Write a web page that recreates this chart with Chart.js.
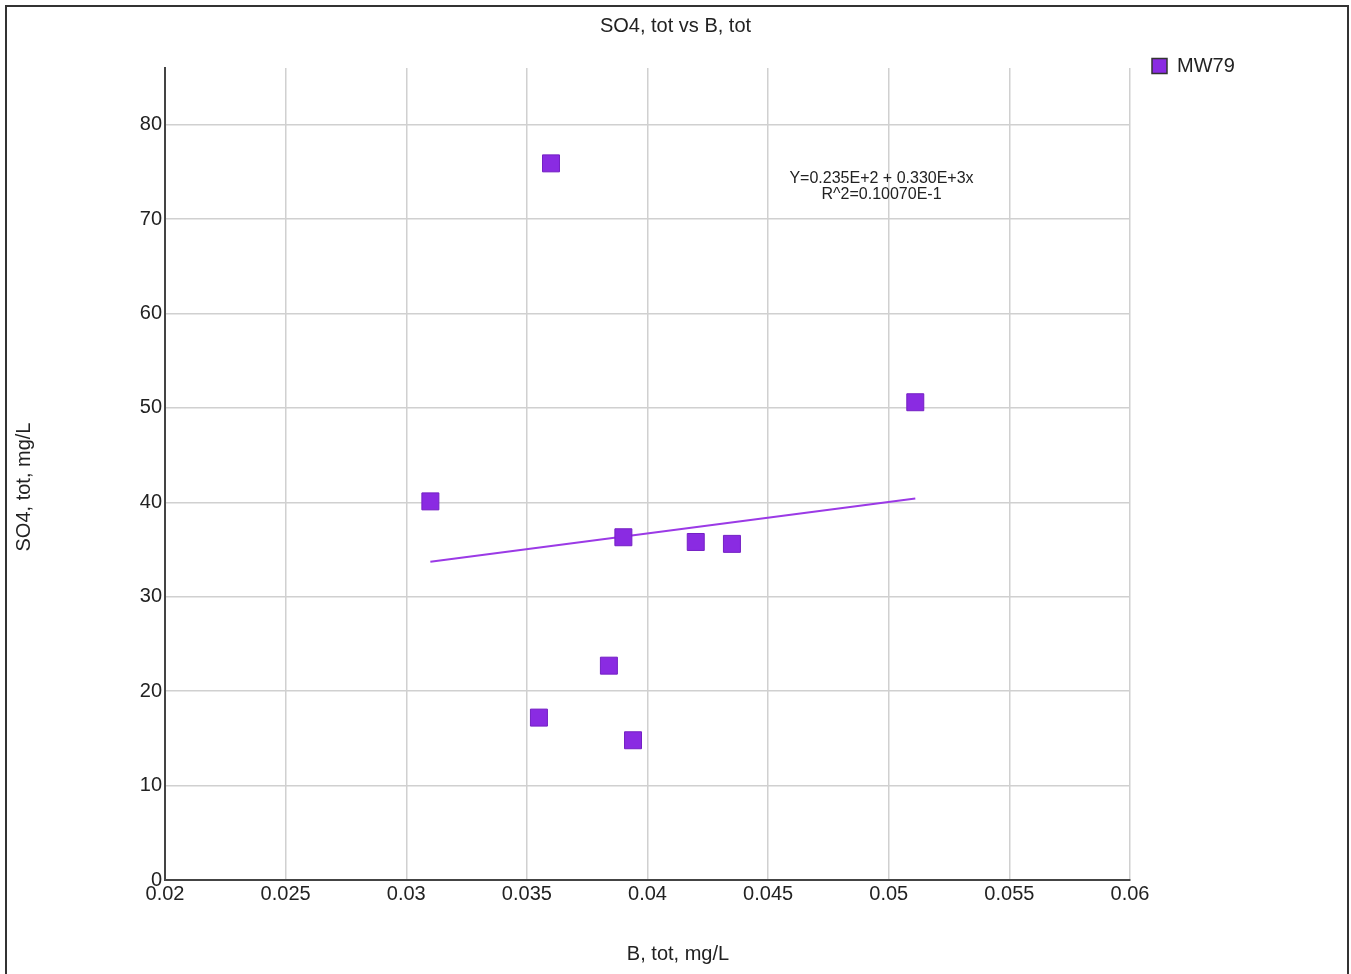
<!DOCTYPE html>
<html>
<head>
<meta charset="utf-8">
<title>SO4, tot vs B, tot</title>
<script src="https://cdn.jsdelivr.net/npm/chart.js@4/dist/chart.umd.min.js"></script>
<style>
    body { margin: 0; background: #fff; }
    canvas { display: block; }
</style>
</head>
<body>
<canvas id="grafico" width="1351" height="974"></canvas>
<script>

// datos
let b_tot = [0.031, 0.036, 0.039, 0.042, 0.0435, 0.0511, 0.0384, 0.0355, 0.0394];
let so4_tot = [40.1, 75.9, 36.3, 35.8, 35.6, 50.6, 22.7, 17.2, 14.8];

let trend_x = [0.031, 0.0511];
let trend_y = [33.7, 40.4];

let x_ticks = [0.02, 0.025, 0.03, 0.035, 0.04, 0.045, 0.05, 0.055, 0.06];
let y_ticks = [0, 10, 20, 30, 40, 50, 60, 70, 80];

let ecuacion = ['Y=0.235E+2 + 0.330E+3x', 'R^2=0.10070E-1'];

let morado = '#8a2be2';
let fuente = 'Liberation Sans, Arial, sans-serif';

let puntos = [];
for (i = 0; i < b_tot.length; i++) {
    puntos.push({x: b_tot[i], y: so4_tot[i]});
}
let linea = [];
for (i = 0; i < trend_x.length; i++) {
    linea.push({x: trend_x[i], y: trend_y[i]});
}

// marco, titulos de ejes y ecuacion
let extras = {
    id: 'extras',
    afterDraw(chart) {
        let ctx = chart.ctx;
        let xs = chart.scales.x;
        let ys = chart.scales.y;
        ctx.save();
        ctx.strokeStyle = '#333';
        ctx.lineWidth = 2;
        ctx.strokeRect(6, 6, 1342, 990);

        ctx.fillStyle = '#222';
        ctx.font = '20px ' + fuente;
        ctx.textAlign = 'center';
        ctx.textBaseline = 'middle';
        ctx.fillText('B, tot, mg/L', 678, 954);

        ctx.save();
        ctx.translate(24, chart.height / 2);
        ctx.rotate(-Math.PI / 2);
        ctx.fillText('SO4, tot, mg/L', 0, 0);
        ctx.restore();

        ctx.font = '16px ' + fuente;
        let ex = xs.getPixelForValue(0.0497);
        let ey = ys.getPixelForValue(74.3);
        ctx.fillText(ecuacion[0], ex, ey);
        ctx.fillText(ecuacion[1], ex, ey + 16);
        ctx.restore();
    }
};

let graf = new Chart(document.getElementById('grafico'), {
    type: 'scatter',
    data: {
        datasets: [{
            label: 'MW79',
            data: puntos,
            backgroundColor: morado,
            borderColor: '#7420c4',
            borderWidth: 1,
            pointStyle: 'rect',
            pointRadius: 12,
            pointHoverRadius: 12
        }, {
            label: 'tendencia',
            type: 'line',
            data: linea,
            borderColor: '#9b3ae6',
            borderWidth: 2,
            pointRadius: 0,
            fill: false
        }]
    },
    options: {
        responsive: false,
        animation: false,
        layout: { padding: 0 },
        plugins: {
            title: {
                display: true,
                text: 'SO4, tot vs B, tot',
                color: '#222',
                font: { family: fuente, size: 20, weight: 'normal' },
                padding: { top: 14, bottom: 30 }
            },
            legend: {
                position: 'right',
                align: 'start',
                title: {
                    display: true,
                    text: ' ',
                    padding: 5,
                    font: { family: fuente, size: 20 }
                },
                labels: {
                    color: '#222',
                    font: { family: fuente, size: 20 },
                    boxWidth: 15,
                    boxHeight: 15,
                    padding: 22,
                    filter: function(item) { return item.datasetIndex == 0; },
                    generateLabels: function(chart) {
                        let items = Chart.defaults.plugins.legend.labels.generateLabels(chart);
                        items.forEach(function(it) {
                            it.strokeStyle = '#333';
                            it.lineWidth = 1.5;
                        });
                        return items;
                    }
                }
            },
            tooltip: { enabled: false }
        },
        scales: {
            x: {
                type: 'linear',
                min: 0.02,
                max: 0.06,
                afterBuildTicks: function(scale) {
                    scale.ticks = x_ticks.map(function(v) { return {value: v}; });
                },
                afterFit: function(scale) {
                    scale.height = 94;
                    scale.paddingRight = 221;
                },
                ticks: {
                    color: '#222',
                    font: { family: fuente, size: 20 },
                    padding: 2,
                    maxRotation: 0,
                    callback: function(v) { return String(parseFloat(v.toFixed(4))); }
                },
                grid: { color: '#d0d0d0', lineWidth: 1.5, drawTicks: false },
                border: { color: '#444', width: 2 }
            },
            y: {
                type: 'linear',
                min: 0,
                max: 86,
                afterBuildTicks: function(scale) {
                    scale.ticks = y_ticks.map(function(v) { return {value: v}; });
                },
                afterFit: function(scale) { scale.width = 165; },
                ticks: {
                    color: '#222',
                    font: { family: fuente, size: 20 },
                    padding: 3
                },
                grid: { color: '#d0d0d0', lineWidth: 1.5, drawTicks: false },
                border: { color: '#444', width: 2 }
            }
        }
    },
    plugins: [extras]
});
</script>
</body>
</html>
